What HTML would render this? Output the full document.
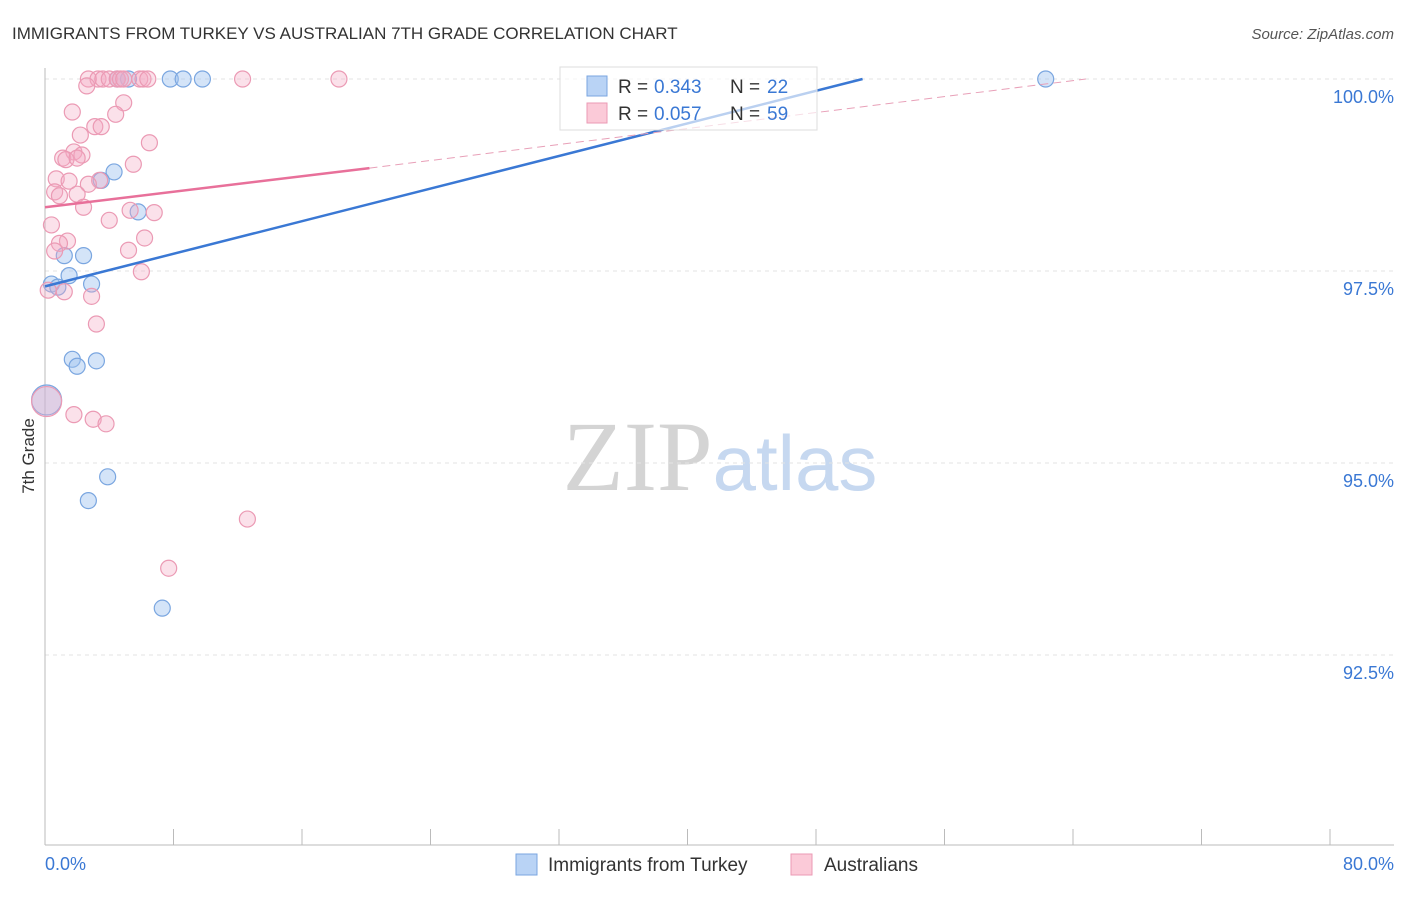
<!DOCTYPE html>
<html><head><meta charset="utf-8"><style>
body{margin:0;background:#fff;font-family:"Liberation Sans",sans-serif}
svg text{font-family:"Liberation Sans",sans-serif}
</style></head><body>
<svg id="chart" width="1406" height="892" xmlns="http://www.w3.org/2000/svg">
<text x="12" y="39" font-size="17" fill="#333">IMMIGRANTS FROM TURKEY VS AUSTRALIAN 7TH GRADE CORRELATION CHART</text>
<text x="1394" y="39" font-size="15" fill="#555" text-anchor="end" font-style="italic">Source: ZipAtlas.com</text>
<text x="720" y="490" font-size="100" text-anchor="middle"><tspan fill="#d4d4d4" font-family="Liberation Serif">ZIP</tspan><tspan fill="#c6d8f0" font-size="78">atlas</tspan></text>
<g id="grid"></g>
<g id="axes"></g>
<g id="points"></g>
<g id="lines"></g>
<text transform="translate(34,456) rotate(-90)" font-size="17" fill="#333" text-anchor="middle">7th Grade</text>
<g>
<rect x="560" y="67" width="257" height="63" fill="#fff" fill-opacity="0.65" stroke="#ddd"/>
<rect x="587" y="76" width="20" height="20" fill="#b9d3f5" stroke="#7aa6e0"/>
<rect x="587" y="103" width="20" height="20" fill="#fbcad8" stroke="#eb9ab4"/>
<text x="618" y="93" font-size="19" fill="#333">R =</text>
<text x="654" y="93" font-size="19" fill="#3a78d4">0.343</text>
<text x="730" y="93" font-size="19" fill="#333">N =</text>
<text x="767" y="93" font-size="19" fill="#3a78d4">22</text>
<text x="618" y="120" font-size="19" fill="#333">R =</text>
<text x="654" y="120" font-size="19" fill="#3a78d4">0.057</text>
<text x="730" y="120" font-size="19" fill="#333">N =</text>
<text x="767" y="120" font-size="19" fill="#3a78d4">59</text>
</g>
<g>
<rect x="516" y="854" width="21" height="21" fill="#b9d3f5" stroke="#7aa6e0"/>
<text x="548" y="871" font-size="19" fill="#333">Immigrants from Turkey</text>
<rect x="791" y="854" width="21" height="21" fill="#fbcad8" stroke="#eb9ab4"/>
<text x="824" y="871" font-size="19" fill="#333">Australians</text>
</g>
</svg>
<script>
const yTicks=[100,97.5,95,92.5];
const yTickLabels=["100.0%","97.5%","95.0%","92.5%"];
const xEnds=["0.0%","80.0%"];
const blueX=[5.2,7.8,8.6,9.8,4.5,62.3,4.3,3.5,5.8,2.4,1.2,1.5,2.9,0.4,0.8,1.7,2.0,3.2,0.1,3.9,2.7,7.3];
const blueY=[100,100,100,100,100,100,98.79,98.68,98.27,97.70,97.70,97.44,97.33,97.33,97.29,96.35,96.26,96.33,95.82,94.82,94.51,93.11];
const pinkX=[2.7,3.3,3.6,4.0,4.5,4.7,4.9,5.9,6.1,6.4,12.3,18.3,2.6,4.9,1.7,4.4,3.1,3.5,2.2,6.5,1.8,2.3,1.1,1.3,2.0,5.5,0.7,1.5,3.4,2.7,0.6,0.9,2.0,2.4,5.3,6.8,4.0,0.4,6.2,1.4,0.9,5.2,0.6,6.0,0.2,1.2,2.9,3.2,1.8,3.0,3.8,12.6,7.7,0.1];
const pinkY=[100,100,100,100,100,100,100,100,100,100,100,100,99.91,99.69,99.57,99.54,99.38,99.38,99.27,99.17,99.05,99.01,98.97,98.95,98.97,98.89,98.70,98.67,98.68,98.63,98.53,98.48,98.50,98.33,98.29,98.26,98.16,98.10,97.93,97.89,97.86,97.77,97.76,97.49,97.25,97.23,97.17,96.81,95.63,95.57,95.51,94.27,93.63,95.80];
const blueTrend=[0,97.30,50.9,100];
const pinkTrend=[0,98.33,20.2,98.84,64.8,100];
const NS="http://www.w3.org/2000/svg";
const X=v=>45+v*16.0625, Y=v=>79+(100-v)*76.8;
function mk(tag,attrs,parent){const e=document.createElementNS(NS,tag);for(const k in attrs)e.setAttribute(k,attrs[k]);document.getElementById(parent).appendChild(e);return e;}
yTicks.forEach((t,i)=>{
 const l=mk('line',{x1:45,x2:1394,y1:Y(t),y2:Y(t),stroke:'#e3e3e3','stroke-dasharray':'4,4'},'grid');
 
 
 const tx=mk('text',{x:1394,y:Y(t)+24,'font-size':18,fill:'#3a78d4','text-anchor':'end'},'axes');
 tx.textContent=yTickLabels[i];
 
 
});
const ya=mk('line',{x1:45,x2:45,y1:68,y2:845,stroke:'#bbb'},'axes');


const xa=mk('line',{x1:45,x2:1394,y1:845,y2:845,stroke:'#bbb'},'axes');


for(let i=0;i<=10;i++){const t=mk('line',{x1:X(i*8),x2:X(i*8),y1:829,y2:845,stroke:'#bbb'},'axes');
 
 }
const x0=mk('text',{x:45,y:870,'font-size':18,fill:'#3a78d4'},'axes');x0.textContent=xEnds[0];


const x1=mk('text',{x:1394,y:870,'font-size':18,fill:'#3a78d4','text-anchor':'end'},'axes');x1.textContent=xEnds[1];


blueX.forEach((v,i)=>{const c=mk('circle',{cx:X(v),cy:Y(blueY[i]),r:i==18?15:8,fill:'rgba(160,195,240,0.45)',stroke:'#7aa6e0','stroke-width':1.2},'points');
 
 });
pinkX.forEach((v,i)=>{const c=mk('circle',{cx:X(v),cy:Y(pinkY[i]),r:i==pinkX.length-1?15:8,fill:'rgba(244,170,195,0.35)',stroke:'#eb9ab4','stroke-width':1.2},'points');
 
 });
const bl=mk('line',{x1:X(blueTrend[0]),y1:Y(blueTrend[1]),x2:X(blueTrend[2]),y2:Y(blueTrend[3]),stroke:'#3a78d4','stroke-width':2.5},'lines');


const pl=mk('line',{x1:X(pinkTrend[0]),y1:Y(pinkTrend[1]),x2:X(pinkTrend[2]),y2:Y(pinkTrend[3]),stroke:'#e8709a','stroke-width':2.5},'lines');


const pd=mk('line',{x1:X(pinkTrend[2]),y1:Y(pinkTrend[3]),x2:X(pinkTrend[4]),y2:Y(pinkTrend[5]),stroke:'#e8a0b8','stroke-width':1,'stroke-dasharray':'8,5'},'lines');


</script>
</body></html>
